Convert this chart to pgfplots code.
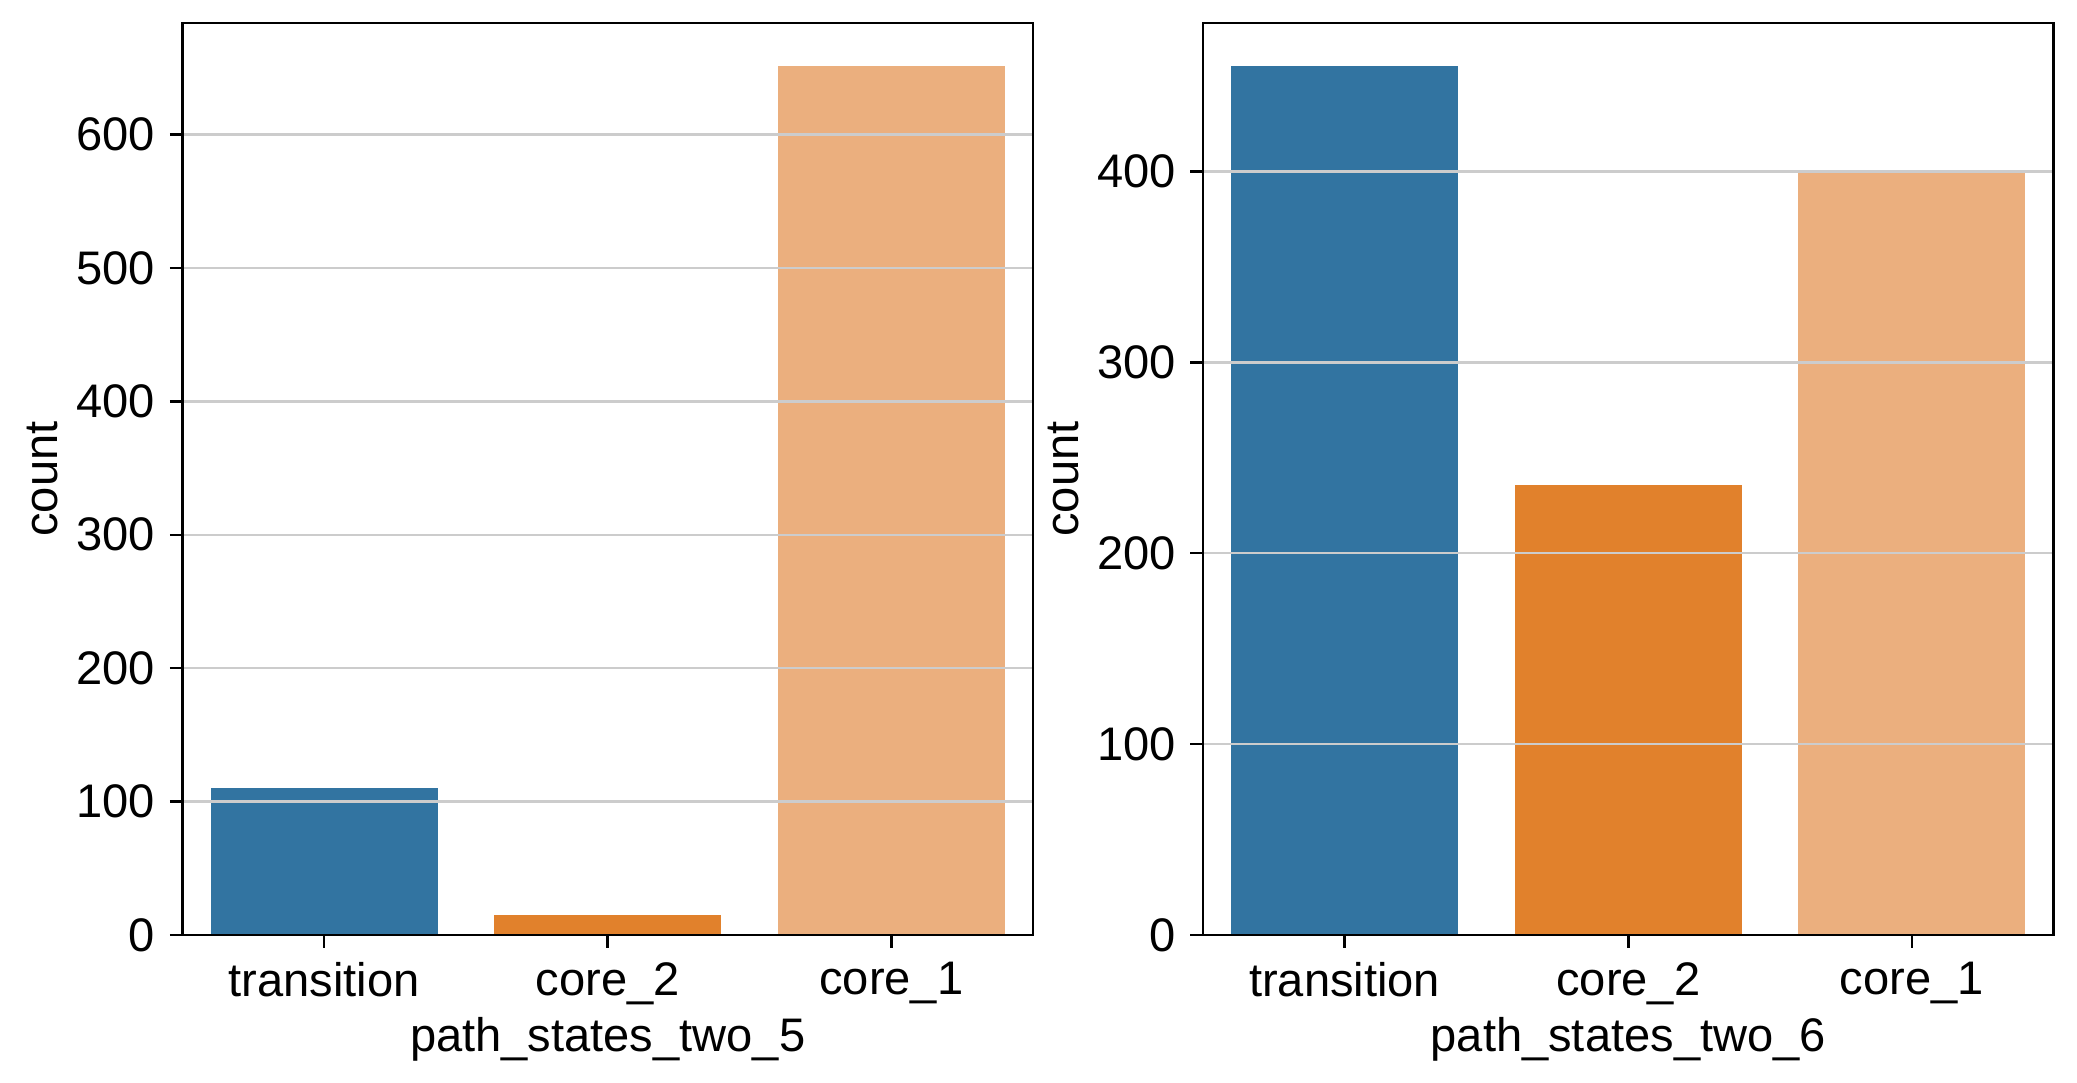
\documentclass[border=0pt]{standalone}
\usepackage{fontspec}
\setmainfont{Liberation Sans}
\usepackage{pgfplots}
\pgfplotsset{compat=1.18}

\definecolor{cblue}{RGB}{50,116,161}
\definecolor{corange}{RGB}{225,129,44}
\definecolor{clight}{RGB}{235,175,126}

\pgfplotsset{
  countbars/.style={
    scale only axis,
    width=204.2pt, height=218.9pt,
    anchor=south west,
    ybar, bar width=0.8, bar shift=0pt,
    xmin=-0.5, xmax=2.5, ymin=0,
    xtick={0,1,2},
    xticklabels={transition,core\_2,core\_1},
    ytick distance=100,
    axis on top,
    ymajorgrids,
    major grid style={color=black!20, line width=0.6pt},
    axis line style={line width=0.6pt, black},
    tick style={line width=0.6pt, black},
    major tick length=3pt,
    tick align=outside,
    xtick pos=bottom, ytick pos=left,
    /pgf/number format/assume math mode=true,
    tick label style={font=\fontsize{11.3}{13}\selectfont},
    label style={font=\fontsize{11.3}{13}\selectfont},
    ylabel={count},
    xlabel shift=-3.8pt,
    ylabel shift=-2.5pt,
    every axis plot/.append style={draw=none},
  }
}

\begin{document}
\begin{tikzpicture}
\useasboundingbox (0,0) rectangle (498.5pt,259.7pt);

% left panel: path_states_two_5
\begin{axis}[countbars, at={(43.75pt,35.28pt)}, ymax=683.55,
  xlabel={path\_states\_two\_5}]
\addplot[fill=cblue] coordinates {(0,110)};
\addplot[fill=corange] coordinates {(1,15)};
\addplot[fill=clight] coordinates {(2,651)};
\end{axis}

% right panel: path_states_two_6
\begin{axis}[countbars, at={(288.7pt,35.28pt)}, ymax=477.75,
  xlabel={path\_states\_two\_6}]
\addplot[fill=cblue] coordinates {(0,455)};
\addplot[fill=corange] coordinates {(1,236)};
\addplot[fill=clight] coordinates {(2,399)};
\end{axis}
\end{tikzpicture}
\end{document}
